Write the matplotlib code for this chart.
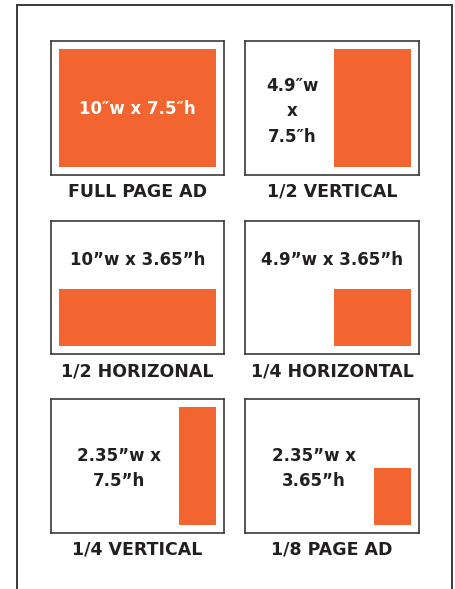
import matplotlib
matplotlib.use("Agg")
import matplotlib.pyplot as plt
from matplotlib.lines import Line2D

# ad sizes (inches) on an 11 x 8.5 page with 0.5" margins
ad_names = ["FULL PAGE AD", "1/2 VERTICAL", "1/2 HORIZONAL",
            "1/4 HORIZONTAL", "1/4 VERTICAL", "1/8 PAGE AD"]
ad_widths = [10, 4.9, 10, 4.9, 2.35, 2.35]
ad_heights = [7.5, 7.5, 3.65, 3.65, 7.5, 3.65]
size_labels = ["10\u2033w x 7.5\u2033h", "4.9\u2033w\nx\n7.5\u2033h",
               "10\u201dw x 3.65\u201dh", "4.9\u201dw x 3.65\u201dh",
               "2.35\u201dw x\n7.5\u201dh", "2.35\u201dw x\n3.65\u201dh"]

page_w, page_h, margin = 11.0, 8.5, 0.5

ORANGE = "#F26430"
INK = "#231F20"
FRAME = "#3a3a3a"
FONT = "DejaVu Sans"

W, H = 455, 589
fig = plt.figure(figsize=(W / 100, H / 100), dpi=100)
fig.patch.set_facecolor("white")

# outer border (left, top, right; bottom runs off the page)
bx0, bx1, by0 = 17 / W, 452 / W, 1 - 5 / H
for xs, ys in [([bx0, bx0], [0, by0]), ([bx0, bx1], [by0, by0]), ([bx1, bx1], [by0, 0])]:
    fig.add_artist(Line2D(xs, ys, transform=fig.transFigure, color=FRAME, lw=1.4))

col_left = [50.7, 245.3]
row_top = [41.3, 220.7, 399.3]
pw, ph = 173.3, 133.6

# text placement inside each panel (data coords)
text_xy = [(5.5, 4.2), (3.0, 4.05), (5.5, 6.0), (5.5, 6.0), (4.34, 4.1), (4.34, 4.1)]
text_color = ["white", INK, INK, INK, INK, INK]

for i in range(6):
    r, c = divmod(i, 2)
    ax = fig.add_axes([col_left[c] / W, 1 - (row_top[r] + ph) / H, pw / W, ph / H])
    ax.set_xlim(0, page_w)
    ax.set_ylim(0, page_h)
    left = page_w - margin - ad_widths[i]
    ax.bar(left, ad_heights[i], width=ad_widths[i], bottom=margin,
           align="edge", color=ORANGE, linewidth=0)
    ax.set_xticks([])
    ax.set_yticks([])
    for s in ax.spines.values():
        s.set_color(FRAME)
        s.set_linewidth(1.2)
    tx, ty = text_xy[i]
    ax.text(tx, ty, size_labels[i], ha="center", va="center", color=text_color[i],
            fontsize=12, fontweight="bold", family=FONT, linespacing=1.55)
    ax.text(page_w / 2, -1.08, ad_names[i], ha="center", va="center", color=INK,
            fontsize=12.5, fontweight="bold", family=FONT, clip_on=False)

fig.savefig("out.png", dpi=100)
